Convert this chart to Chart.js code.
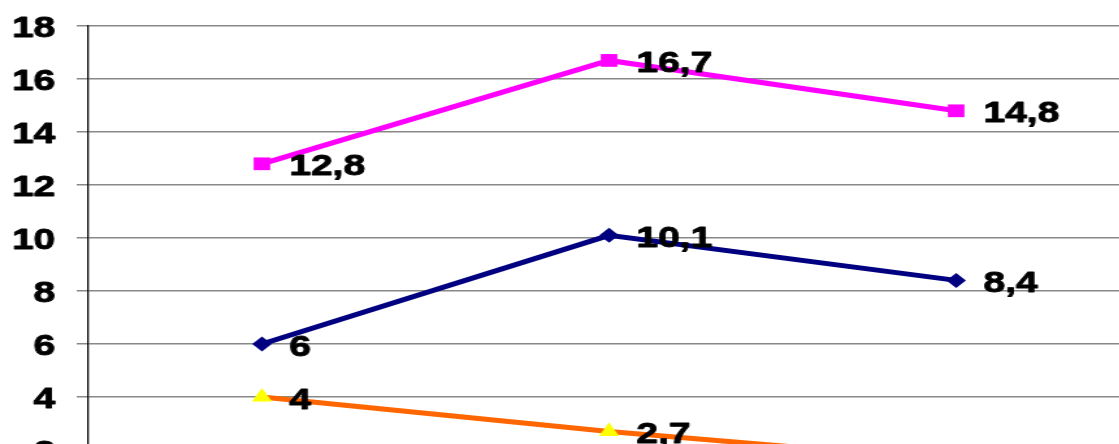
<!DOCTYPE html>
<html><head><meta charset="utf-8">
<script src="https://cdn.jsdelivr.net/npm/chart.js@4.4.1/dist/chart.umd.min.js"></script>
<style>
html,body{margin:0;padding:0;background:#fff;overflow:hidden;width:1119px;height:444px;}
#wrap{position:absolute;left:0;top:0;width:878px;height:543px;transform:scaleX(1.3);transform-origin:0 0;}
</style></head><body>
<div id="wrap"><canvas id="c" width="878" height="543"></canvas></div>
<script>
const categories = ['1', '2', '3'];
const seriesPink = [12.8, 16.7, 14.8];
const seriesNavy = [6, 10.1, 8.4];
const seriesOrange = [4, 2.7, 1.6];
const yMin = 0, yMax = 18, yStep = 2;

const FONT = "'Liberation Sans', Arial, sans-serif";

function heavyText(ctx, txt, x, y) {
  ctx.fillText(txt, x, y);
  ctx.strokeText(txt, x, y);
}

const labelPlugin = {
  id: 'valueLabels',
  afterDatasetsDraw(chart) {
    const ctx = chart.ctx;
    ctx.save();
    ctx.font = 'bold 30px ' + FONT;
    ctx.fillStyle = '#000';
    ctx.strokeStyle = '#000';
    ctx.lineWidth = 0.9;
    ctx.lineJoin = 'round';
    ctx.textBaseline = 'alphabetic';
    // value labels
    ctx.textAlign = 'left';
    chart.data.datasets.forEach((ds, i) => {
      const meta = chart.getDatasetMeta(i);
      meta.data.forEach((pt, j) => {
        const txt = String(ds.data[j]).replace('.', ',');
        heavyText(ctx, txt, pt.x + 21, pt.y + 11.5);
      });
    });
    // y tick labels
    const ys = chart.scales.y;
    ctx.textAlign = 'right';
    ys.ticks.forEach(t => {
      const py = ys.getPixelForValue(t.value);
      heavyText(ctx, String(t.value), 42.5, py + 10.7);
    });
    ctx.restore();
  }
};

new Chart(document.getElementById('c'), {
  type: 'line',
  data: {
    labels: categories,
    datasets: [
      {label: 'Serie 1', data: seriesPink, borderColor: '#FF00FF', backgroundColor: '#FF00FF',
       borderWidth: 5, pointStyle: 'rect', pointRadius: 9, pointBorderWidth: 0, tension: 0},
      {label: 'Serie 2', data: seriesNavy, borderColor: '#000080', backgroundColor: '#000080',
       borderWidth: 5, pointStyle: 'rectRot', pointRadius: 7.5, pointBorderWidth: 0, tension: 0},
      {label: 'Serie 3', data: seriesOrange, borderColor: '#FF6600', backgroundColor: '#FFFF00',
       pointBorderColor: '#FFFF00', borderWidth: 5, pointStyle: 'triangle', pointRadius: 9, pointBorderWidth: 0, tension: 0}
    ]
  },
  options: {
    responsive: false,
    animation: false,
    layout: {padding: {top: 26, left: 0, right: 0, bottom: 0}},
    plugins: {legend: {display: false}, tooltip: {enabled: false}},
    scales: {
      x: {
        offset: true,
        grid: {display: false},
        border: {display: true, color: '#000'},
        ticks: {display: false},
        afterFit(s) { s.height = 40; s.paddingLeft = 0; s.paddingRight = 0; }
      },
      y: {
        min: yMin, max: yMax,
        grid: {color: '#888', lineWidth: 1.5, tickLength: 9, tickColor: '#888'},
        border: {display: true, color: '#000', width: 1.3},
        ticks: {display: false, stepSize: yStep},
        afterFit(s) { s.width = 68; s.paddingTop = 0; s.paddingBottom = 0; }
      }
    }
  },
  plugins: [labelPlugin]
});
</script>
</body></html>
